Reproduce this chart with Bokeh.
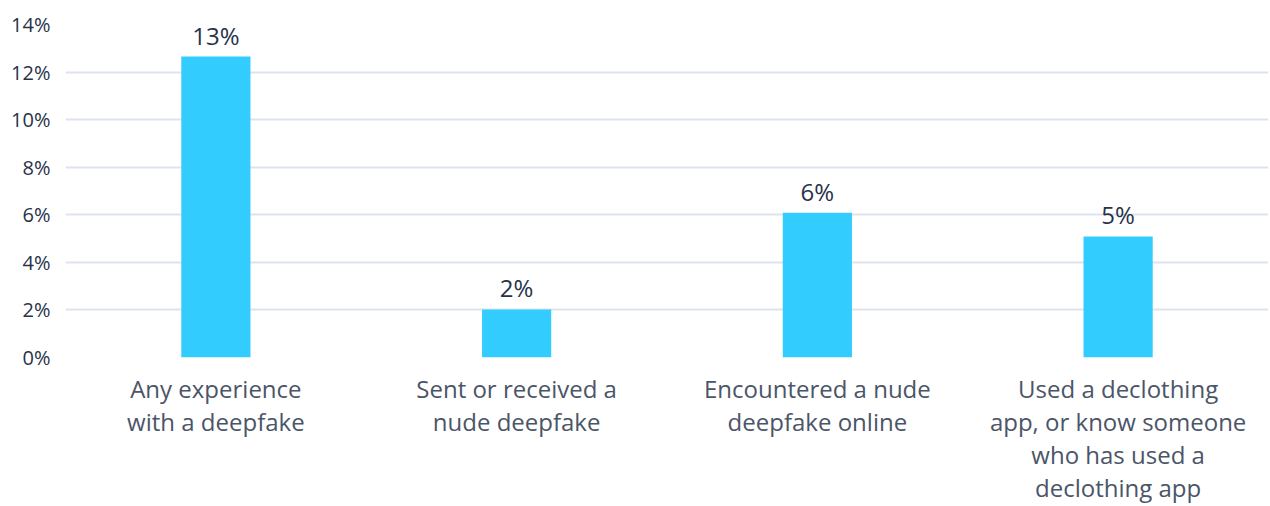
from bokeh.plotting import figure
from bokeh.models import ColumnDataSource, FixedTicker, PrintfTickFormatter, Range1d
from bokeh.core.properties import value
from bokeh.embed import file_html
from bokeh.resources import INLINE

categories = [
    "Any experience\nwith a deepfake",
    "Sent or received a\nnude deepfake",
    "Encountered a nude\ndeepfake online",
    "Used a declothing\napp, or know someone\nwho has used a\ndeclothing app",
]
values = [12.65, 2.02, 6.09, 5.09]
value_labels = ["13%", "2%", "6%", "5%"]
y_ticks = [0, 2, 4, 6, 8, 10, 12, 14]

FONT = "Open Sans"
BAR = "#33CCFF"
GRID = "#DDE3ED"
DARK = "#28334A"
MID = "#4B5568"

src = ColumnDataSource(dict(cat=categories, val=values, lab=value_labels))

p = figure(
    x_range=categories,
    y_range=Range1d(0, 14),
    width=1268,
    height=506,
    output_backend="svg",
    toolbar_location=None,
    min_border_left=65,
    min_border_right=0,
    min_border_top=24,
    min_border_bottom=149,
)
p.outline_line_color = None
p.background_fill_color = "white"
p.border_fill_color = "white"

p.vbar(x="cat", top="val", width=0.23, source=src, color=BAR, line_color=None)
p.text(
    x="cat", y="val", text="lab", source=src,
    text_align="center", text_baseline="bottom", y_offset=-5,
    text_font=value(FONT), text_font_size="24px", text_color=DARK,
)

p.xgrid.grid_line_color = None
p.ygrid.grid_line_color = GRID
p.ygrid.grid_line_width = 2
p.ygrid.ticker = FixedTicker(ticks=y_ticks)

ya = p.yaxis[0]
ya.ticker = FixedTicker(ticks=y_ticks)
ya.formatter = PrintfTickFormatter(format="%d%%")
ya.axis_line_color = None
ya.major_tick_line_color = None
ya.minor_tick_line_color = None
ya.major_tick_out = 0
ya.major_label_standoff = 15
ya.major_label_text_font = FONT
ya.major_label_text_font_size = "20px"
ya.major_label_text_color = DARK

xa = p.xaxis[0]
xa.axis_line_color = None
xa.major_tick_line_color = None
xa.minor_tick_line_color = None
xa.major_tick_out = 0
xa.major_label_standoff = 14
xa.major_label_text_font = FONT
xa.major_label_text_font_size = "24px"
xa.major_label_text_color = MID
xa.major_label_text_line_height = 1.0

open("out.html", "w").write(file_html(p, INLINE))
